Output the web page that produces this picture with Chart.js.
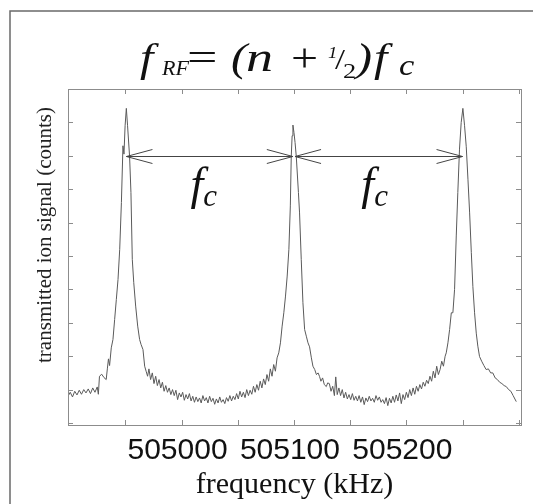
<!DOCTYPE html>
<html><head><meta charset="utf-8">
<script src="https://cdn.jsdelivr.net/npm/chart.js@4.4.0/dist/chart.umd.min.js"></script>
<style>html,body{margin:0;padding:0;background:#fff;}canvas{display:block}</style>
</head><body>
<canvas id="c" width="533" height="504"></canvas>
<script>
// ---- data ----
const freqKHz = [
 504899,504901,504903,504905,504907,504909,504911,504913,504915,504917,504919,504921,504923,504925,504926,504927,
 504929,504931,504933,504934,504935,504936,504937.5,504939,504940.5,504942,504943.5,504945,504946.5,504947.9,504948.8,
 504949.8,504950.9,504952,504953.8,504955,504956.2,504957.5,504959.2,504961,504962.7,504964,504965.7,504967.2,504968.5,504969.8,
 504971,504972.5,504974,504975.5,504977,504978.5,504980,504981.5,504983,504984.5,504986,504987.5,504989,504990.5,504992,504993.5,
 504995,504996.5,504998,504999.5,505001,505002.5,505004,505005.5,505007,505008.5,505010,505011.5,505013,505014.5,505016,505017.5,
 505019,505020.5,505022,505023.5,505025,505026.5,505028,505029.5,505031,505032.5,505034,505035.5,505037,505038.5,505040,505041.5,
 505043,505044.5,505046,505047.5,505049,505050.5,505052,505053.5,505055,505056.5,505058,505059.5,505061,505062.5,505064,505065.5,
 505067,505068.5,505070,505071.5,505073,505074.5,505076,505077.5,505079,505080.5,505082,505083.5,505085,505086.5,505088,505089.5,
 505091,505092.5,505094,505095.5,505096.8,505097.6,505098.4,505099.1,505100,505101,505102.1,505104,505105,505106.5,505108,505109.5,
 505111,505112.5,505113.9,505115.5,505116.9,505118.5,505120,505121.5,505122.8,505124,505125.5,505127,505128.8,505130,505131.5,505133,
 505134.5,505136,505137.2,505138.5,505140,505141.5,505143,505144.5,505146,505147.5,505149,505150.5,505152,505153.5,505155,505156.5,
 505158,505159.5,505161,505162.5,505164,505165.5,505167,505168.5,505170,505171.5,505173,505174.5,505176,505177.5,505179,505180.5,
 505182,505183.5,505185,505186.5,505188,505189.5,505191,505192.5,505194,505195.5,505197,505198.5,505200,505201.5,505203,505204.5,
 505206,505207.5,505209,505210.5,505212,505213.5,505215,505216.5,505218,505219.5,505221,505222.5,505224,505225.5,505227,505228.5,
 505230,505231.5,505233,505234.5,505235.5,505237,505238.5,505240,505241.4,505242.9,505244.4,505245.8,505247.3,505248.8,505250.3,505251.8,
 505253.3,505254.8,505256.3,505257.8,505259.2,505260.7,505262.2,505263.6,505265.1,505267,505269,505271,505273,505275,505276.9,505279,
 505281,505283,505285,505287,505288.9,505291,505293,505295,505297.8
];
const signal = [
 0.80,0.92,0.78,0.95,0.84,0.98,0.86,1.00,0.90,1.02,0.88,1.05,0.92,1.08,0.86,1.40,
 1.46,1.36,1.30,1.62,1.92,1.72,2.25,2.50,3.10,3.70,4.30,5.20,6.60,8.30,8.05,
 8.90,9.42,8.90,7.97,6.90,4.90,4.20,3.50,2.90,2.50,2.35,2.20,1.70,1.55,1.40,
 1.62,1.30,1.50,1.18,1.40,1.12,1.30,1.05,1.22,0.95,1.12,0.92,1.05,0.85,1.00,0.82,
 0.98,0.70,0.90,0.78,0.92,0.68,0.85,0.72,0.88,0.66,0.80,0.62,0.78,0.64,0.75,0.60,
 0.82,0.66,0.76,0.60,0.80,0.64,0.74,0.56,0.72,0.60,0.78,0.62,0.70,0.58,0.76,0.65,
 0.82,0.66,0.80,0.70,0.88,0.72,0.95,0.78,0.92,0.76,1.00,0.82,0.98,0.86,1.10,0.92,
 1.15,0.98,1.25,1.05,1.32,1.15,1.45,1.25,1.62,1.40,1.75,1.55,1.95,2.10,2.40,2.90,
 3.30,3.80,4.40,5.20,6.50,7.97,8.60,8.92,8.70,8.40,7.97,6.90,6.29,4.90,3.60,2.80,
 2.60,2.40,2.28,1.95,1.70,1.60,1.45,1.50,1.39,1.25,1.35,1.15,1.09,1.20,1.18,0.95,
 1.10,0.82,1.38,0.85,1.05,0.82,1.00,0.75,0.92,0.72,0.85,0.70,0.88,0.68,0.80,0.66,
 0.82,0.62,0.78,0.55,0.75,0.64,0.80,0.66,0.74,0.62,0.82,0.68,0.78,0.62,0.70,0.58,
 0.76,0.52,0.74,0.60,0.80,0.62,0.84,0.66,0.90,0.58,0.85,0.70,0.92,0.76,1.00,0.82,
 1.05,0.86,1.10,0.95,1.15,1.02,1.22,1.10,1.28,1.18,1.40,1.25,1.55,1.35,1.70,1.45,
 1.60,1.85,1.70,2.00,2.10,2.40,2.80,3.30,3.30,4.00,5.60,6.90,8.20,9.00,9.42,8.90,
 8.27,7.30,6.29,5.10,4.08,3.30,2.69,2.30,1.99,1.85,1.72,1.60,1.62,1.50,1.50,1.35,
 1.30,1.22,1.18,1.12,1.09,1.00,0.95,0.82,0.64
];
const xTickValues = [504950, 505000, 505050, 505100, 505150, 505200, 505250, 505300];
const xTickLabels = ['', '505000', '', '505100', '', '505200', '', ''];
const yTickValues = [0,1,2,3,4,5,6,7,8,9,10];
const arrowFrom = [504951, 505101];
const arrowTo = [505099, 505250];
const arrowLevel = [8, 8];
const fcLabelFreq = [505018, 505170];
const fcLabelLevel = [6.72, 6.72];
const xTitle = 'frequency (kHz)';
const yTitle = 'transmitted ion signal (counts)';

const SERIF = '"Liberation Serif", "Times New Roman", serif';
const SANS = '"Liberation Sans", Arial, sans-serif';

const overlay = {
  id: 'overlay',
  afterDraw(chart) {
    const ctx = chart.ctx, a = chart.chartArea;
    const xs = chart.scales.x, ys = chart.scales.y;
    ctx.save();
    // outer frame
    ctx.strokeStyle = '#6a6a6a'; ctx.lineWidth = 1.5;
    ctx.beginPath(); ctx.moveTo(10, 504); ctx.lineTo(10, 11); ctx.lineTo(533, 11); ctx.stroke();
    // axis box
    ctx.strokeStyle = '#8c8c8c'; ctx.lineWidth = 1;
    ctx.strokeRect(a.left + 0.5, a.top + 0.5, a.right - a.left, a.bottom - a.top);
    ctx.beginPath();
    xTickValues.forEach(v => {
      const px = Math.round(xs.getPixelForValue(v)) + 0.5;
      ctx.moveTo(px, a.bottom); ctx.lineTo(px, a.bottom - 5);
      ctx.moveTo(px, a.top); ctx.lineTo(px, a.top + 5);
    });
    yTickValues.forEach(v => {
      const py = Math.round(ys.getPixelForValue(v)) + 0.5;
      ctx.moveTo(a.left, py); ctx.lineTo(a.left + 5, py);
      ctx.moveTo(a.right, py); ctx.lineTo(a.right - 5, py);
    });
    ctx.stroke();
    // arrows
    ctx.strokeStyle = '#444'; ctx.lineWidth = 1;
    arrowFrom.forEach((f, i) => {
      const x1 = xs.getPixelForValue(f), x2 = xs.getPixelForValue(arrowTo[i]);
      const y = Math.round(ys.getPixelForValue(arrowLevel[i])) + 0.5;
      ctx.beginPath();
      ctx.moveTo(x1, y); ctx.lineTo(x2, y);
      ctx.moveTo(x1 + 26, y - 7); ctx.lineTo(x1, y); ctx.lineTo(x1 + 26, y + 7);
      ctx.moveTo(x2 - 26, y - 7); ctx.lineTo(x2, y); ctx.lineTo(x2 - 26, y + 7);
      ctx.stroke();
    });
    // f_c labels
    ctx.fillStyle = '#111';
    ctx.textBaseline = 'alphabetic'; ctx.textAlign = 'left';
    fcLabelFreq.forEach((f, i) => {
      const cx = xs.getPixelForValue(f), by = ys.getPixelForValue(fcLabelLevel[i]);
      ctx.font = 'italic 46px ' + SERIF;
      const wf = ctx.measureText('f').width;
      ctx.font = 'italic 31px ' + SERIF;
      const wc = ctx.measureText('c').width;
      const x0 = cx - (wf + wc) / 2 + 2;
      ctx.font = 'italic 46px ' + SERIF;
      ctx.fillText('f', x0, by);
      ctx.font = 'italic 31px ' + SERIF;
      ctx.fillText('c', x0 + wf, by + 7);
    });
    // title formula pieces: text, left x, baseline, font, horizontal stretch
    const pieces = [
      ['f', 140, 71, 'italic 40px ' + SERIF, 1.2],
      ['RF', 162, 75, 'italic 21px ' + SERIF, 1.05],
      ['=', 187, 71, '40px ' + SERIF, 1.35],
      ['(', 231, 71, 'italic 40px ' + SERIF, 1.2],
      ['n', 246, 71, 'italic 40px ' + SERIF, 1.35],
      ['+', 291, 71, '40px ' + SERIF, 1.2],
      ['1', 328, 58, 'italic 17px ' + SERIF, 1.1],
      ['/', 335, 69, '30px ' + SERIF, 1.2],
      ['2', 343, 78, '22px ' + SERIF, 1.2],
      [')', 356, 71, 'italic 40px ' + SERIF, 1.2],
      ['f', 374, 71, 'italic 40px ' + SERIF, 1.2],
      ['c', 399, 75, 'italic 30px ' + SERIF, 1.15]
    ];
    pieces.forEach(p => {
      ctx.save();
      ctx.font = p[3];
      ctx.translate(p[1], p[2]);
      ctx.scale(p[4], 1);
      ctx.fillText(p[0], 0, 0);
      ctx.restore();
    });
    // y axis title
    ctx.save();
    ctx.translate(45, 235);
    ctx.rotate(-Math.PI / 2);
    ctx.font = '21px ' + SERIF;
    ctx.textAlign = 'center'; ctx.textBaseline = 'middle';
    ctx.fillStyle = '#222';
    ctx.fillText(yTitle, 0, 0);
    ctx.restore();
    ctx.restore();
  }
};

new Chart(document.getElementById('c'), {
  type: 'line',
  data: {
    datasets: [{
      data: freqKHz.map((f, i) => ({ x: f, y: signal[i] })),
      borderColor: '#5a5a5a',
      borderWidth: 1,
      pointRadius: 0,
      tension: 0,
      fill: false
    }]
  },
  options: {
    responsive: false,
    animation: false,
    events: [],
    layout: { padding: { left: 0, top: 89, right: 12, bottom: 0 } },
    plugins: { legend: { display: false }, tooltip: { enabled: false }, title: { display: false } },
    scales: {
      x: {
        type: 'linear',
        min: 504899, max: 505302,
        grid: { display: false, drawTicks: false },
        border: { display: false },
        afterBuildTicks: s => { s.ticks = xTickValues.map(v => ({ value: v })); },
        afterFit: s => { s.height = 79; },
        ticks: {
          autoSkip: false, maxRotation: 0, minRotation: 0, padding: 8,
          labelOffset: -4,
          color: '#111',
          font: { family: SANS, size: 30 },
          callback: (v) => { const i = xTickValues.indexOf(v); return i >= 0 ? xTickLabels[i] : ''; }
        },
        title: {
          display: true, text: xTitle, color: '#111',
          font: { family: SERIF, size: 30 },
          padding: { top: 0, bottom: 1 }
        }
      },
      y: {
        type: 'linear',
        min: -0.06, max: 10,
        grid: { display: false, drawTicks: false },
        border: { display: false },
        afterFit: s => { s.width = 68; },
        ticks: { display: false }
      }
    }
  },
  plugins: [overlay]
});
</script>
</body></html>
